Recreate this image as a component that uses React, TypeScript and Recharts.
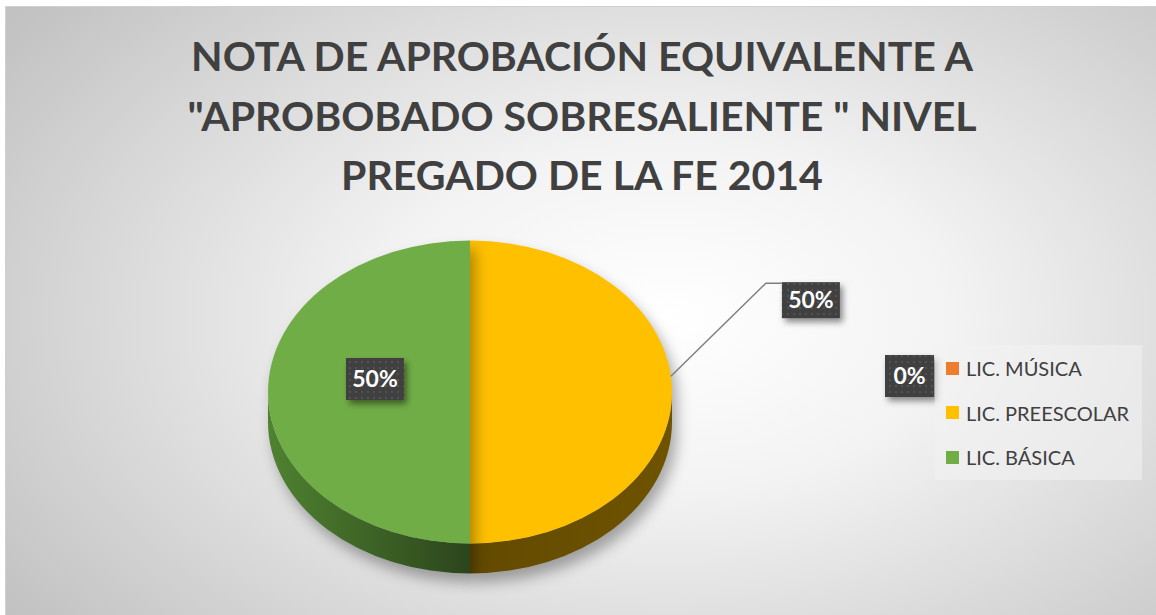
import { Cell, Legend, Pie, PieChart } from 'recharts'

const categories = ['LIC. MÚSICA', 'LIC. PREESCOLAR', 'LIC. BÁSICA']
const shares = [0, 50, 50]
const sliceColors = ['#ED7D31', '#FFC000', '#70AD47']
const titleLines = ['NOTA DE APROBACIÓN EQUIVALENTE A', '"APROBOBADO SOBRESALIENTE " NIVEL', 'PREGADO DE LA FE 2014']

const data = categories.map((name, i) => ({ name, value: shares[i] }))

const FONT = 'Lato, "Open Sans", sans-serif'
const RY = 0.75 // aplastamiento vertical del pastel 3D
const DEPTH = 30
const sideFill = ['url(#sideOrange)', 'url(#sideYellow)', 'url(#sideGreen)']

const pt = (cx: number, cy: number, r: number, deg: number): [number, number] => {
  const a = (deg * Math.PI) / 180
  return [cx + r * Math.cos(a), cy - r * RY * Math.sin(a)]
}

// sector elíptico con su pared frontal
function Slice(props: any) {
  const { cx, cy, outerRadius: r, startAngle, endAngle, fill, index } = props
  if (Math.abs(endAngle - startAngle) < 0.01) return <g />
  const rx = r
  const ry = r * RY
  const s = pt(cx, cy, r, startAngle)
  const e = pt(cx, cy, r, endAngle)
  const large = Math.abs(endAngle - startAngle) > 180 ? 1 : 0
  const sweep = startAngle > endAngle ? 1 : 0
  const top = `M${cx},${cy} L${s[0]},${s[1]} A${rx},${ry} 0 ${large} ${sweep} ${e[0]},${e[1]} Z`
  const lo = Math.min(startAngle, endAngle)
  const hi = Math.max(startAngle, endAngle)
  const sides: string[] = []
  for (let k = -2; k <= 1; k++) {
    const a = Math.max(lo, -180 + k * 360)
    const b = Math.min(hi, k * 360)
    if (b - a > 0.01) {
      const p1 = pt(cx, cy, r, b)
      const p2 = pt(cx, cy, r, a)
      const bl = b - a > 180 ? 1 : 0
      sides.push(`M${p1[0]},${p1[1]} A${rx},${ry} 0 ${bl} 1 ${p2[0]},${p2[1]} L${p2[0]},${p2[1] + DEPTH} A${rx},${ry} 0 ${bl} 0 ${p1[0]},${p1[1] + DEPTH} Z`)
    }
  }
  return (
    <g>
      {sides.map((d, i) => <path key={i} d={d} fill={sideFill[index]} />)}
      <path d={top} fill={fill} />
    </g>
  )
}

function DarkBox({ x, y, w, h, text }: { x: number; y: number; w: number; h: number; text: string }) {
  return (
    <g>
      <rect x={x} y={y} width={w} height={h} fill="url(#dots)" filter="url(#boxShadow)" />
      <text x={x + w / 2} y={y + h / 2 + 8} textAnchor="middle" fill="#fff" fontFamily={FONT} fontWeight={700} fontSize={23}>{text}</text>
    </g>
  )
}

function renderLabel(p: any) {
  const { cx, cy, midAngle, outerRadius: r, percent, index } = p
  const txt = `${Math.round(percent * 100)}%`
  if (index === 2) {
    const [x, y] = pt(cx, cy, r * 0.5, midAngle)
    return <DarkBox x={x - 23} y={y - 34} w={58} h={42} text={txt} />
  }
  if (index === 1) {
    const [x, y] = pt(cx, cy, r, midAngle + 6)
    return (
      <g>
        <polyline points={`${x},${y} ${x + 95},${y - 93} ${x + 111},${y - 93}`} fill="none" stroke="#7f7f7f" strokeWidth={1.5} />
        <DarkBox x={x + 111} y={y - 94} w={58} h={36} text={txt} />
      </g>
    )
  }
  // etiqueta del 0% que Excel deja junto a la leyenda
  return <DarkBox x={cx + 415} y={cy - 37} w={49} h={42} text={txt} />
}

function LegendBox({ payload }: any) {
  const items = [...(payload || [])].sort((a: any, b: any) => categories.indexOf(a.value) - categories.indexOf(b.value))
  return (
    <div style={{ background: 'rgba(242,242,242,0.55)', width: '100%', height: '100%', padding: '1px 0 0 11px', boxSizing: 'border-box' }}>
      {items.map((e: any) => (
        <div key={e.value} style={{ display: 'flex', alignItems: 'center', height: 44.5, fontFamily: FONT, fontSize: 20, color: '#404040' }}>
          <span style={{ width: 13, height: 13, background: e.color, marginRight: 7, display: 'inline-block' }} />
          {e.value}
        </div>
      ))}
    </div>
  )
}

export default function App() {
  return (
    <div style={{ position: 'absolute', left: 0, top: 0, width: 1156, height: 615, overflow: 'hidden', background: '#fff' }}>
      <style>{`.pie3d .recharts-pie-sector { filter: drop-shadow(5px 9px 7px rgba(0,0,0,0.32)); }`}</style>
      <svg width={0} height={0} style={{ position: 'absolute' }}>
        <defs>
          <linearGradient id="sideGreen" x1="268" y1="0" x2="470" y2="0" gradientUnits="userSpaceOnUse">
            <stop offset="0%" stopColor="#4f8230" />
            <stop offset="100%" stopColor="#2c451c" />
          </linearGradient>
          <linearGradient id="sideYellow" x1="470" y1="0" x2="672" y2="0" gradientUnits="userSpaceOnUse">
            <stop offset="0%" stopColor="#634a00" />
            <stop offset="100%" stopColor="#6e5300" />
          </linearGradient>
          <linearGradient id="sideOrange" x1="0" y1="0" x2="1" y2="0">
            <stop offset="0%" stopColor="#8a4a1d" />
            <stop offset="100%" stopColor="#8a4a1d" />
          </linearGradient>
          <pattern id="dots" width="6" height="6" patternUnits="userSpaceOnUse">
            <rect width="6" height="6" fill="#404040" />
            <rect x="1" y="1" width="2" height="2" fill="#525252" />
          </pattern>
          <filter id="boxShadow" x="-30%" y="-30%" width="170%" height="180%">
            <feDropShadow dx="3" dy="4" stdDeviation="3" floodColor="#000" floodOpacity="0.45" />
          </filter>
        </defs>
      </svg>
      <div style={{
        position: 'absolute', left: 5, top: 6, width: 1160, height: 620, border: '1px solid #d0d0d0',
        background: 'radial-gradient(ellipse 70% 80% at 57% 50%, #ffffff 0%, #f3f3f3 35%, #c2c2c2 100%)',
      }} />
      <div style={{ position: 'absolute', left: 0, top: 26, width: 1164, textAlign: 'center', fontFamily: FONT, fontWeight: 700, fontSize: 41, lineHeight: '59.5px', color: '#404040' }}>
        {titleLines.map((l) => <div key={l}>{l}</div>)}
      </div>
      <div className="pie3d" style={{ position: 'absolute', left: 0, top: 0 }}>
        <PieChart width={1156} height={615}>
          <Pie data={data} dataKey="value" nameKey="name" cx={465} cy={387} outerRadius={202}
            startAngle={90} endAngle={-270} stroke="none" labelLine={false} label={renderLabel}
            shape={(p: any) => <Slice {...p} />} isAnimationActive={false}>
            {data.map((d, i) => <Cell key={d.name} fill={sliceColors[i]} />)}
          </Pie>
          <Legend content={<LegendBox />} wrapperStyle={{ position: 'absolute', left: 935, top: 345, width: 207, height: 135 }} />
        </PieChart>
      </div>
    </div>
  )
}
